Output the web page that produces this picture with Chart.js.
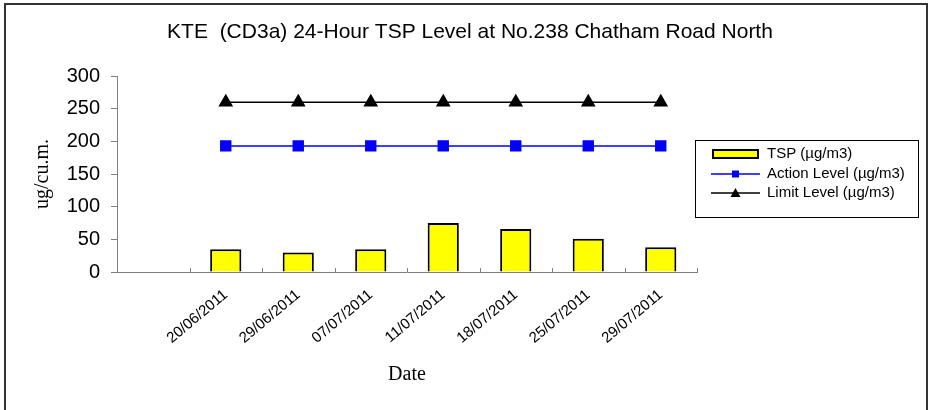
<!DOCTYPE html>
<html>
<head>
<meta charset="utf-8">
<script src="https://cdn.jsdelivr.net/npm/chart.js@4.4.0/dist/chart.umd.min.js"></script>
<style>
  html, body { margin: 0; padding: 0; background: #fff; }
  #wrap { width: 930px; height: 410px; position: relative; }
</style>
</head>
<body>
<div id="wrap"><canvas id="tspChart"></canvas></div>
<script>
// datos del grafico
const dates = ['', '20/06/2011', '29/06/2011', '07/07/2011', '11/07/2011', '18/07/2011', '25/07/2011', '29/07/2011'];
const tspValues = [null, 35, 30, 35, 75, 66, 51, 38];
const actionLevel = [null, 193, 193, 193, 193, 193, 193, 193];
const limitLevel = [null, 260, 260, 260, 260, 260, 260, 260];
const seriesNames = ['TSP (µg/m3)', 'Action Level (µg/m3)', 'Limit Level (µg/m3)'];
const chartTitle = 'KTE  (CD3a) 24-Hour TSP Level at No.238 Chatham Road North';

const sans = '"Liberation Sans", Arial, sans-serif';
const serif = '"Liberation Serif", "Times New Roman", serif';

// marco exterior y titulo
const framePlugin = {
  id: 'frame',
  beforeDraw(chart) {
    const c = chart.ctx;
    c.save();
    c.fillStyle = '#fff';
    c.fillRect(0, 0, chart.width, chart.height);
    c.strokeStyle = '#333';
    c.lineWidth = 2;
    c.beginPath();
    c.moveTo(5, 410);
    c.lineTo(5, 4);
    c.lineTo(927, 4);
    c.lineTo(927, 410);
    c.stroke();
    c.fillStyle = '#000';
    c.font = '21px ' + sans;
    c.textAlign = 'center';
    c.textBaseline = 'middle';
    c.fillText(chartTitle, 470, 32);
    c.restore();
  }
};

// marcas del eje x hacia dentro
const xTickPlugin = {
  id: 'xTicks',
  afterDraw(chart) {
    const xs = chart.scales.x;
    const c = chart.ctx;
    const half = (xs.getPixelForValue(1) - xs.getPixelForValue(0)) / 2;
    c.save();
    c.strokeStyle = '#808080';
    c.lineWidth = 1;
    for (let i = 0; i <= dates.length; i++) {
      const px = Math.round(xs.getPixelForValue(i) - half) + 0.5;
      c.beginPath();
      c.moveTo(px, xs.top);
      c.lineTo(px, xs.top - 4);
      c.stroke();
    }
    c.restore();
  }
};

// leyenda a la derecha
const legendPlugin = {
  id: 'boxLegend',
  afterDraw(chart) {
    const c = chart.ctx;
    const x = 695, y = 140, w = 223, h = 77;
    c.save();
    c.strokeStyle = '#000';
    c.lineWidth = 1;
    c.strokeRect(x + 0.5, y + 0.5, w, h);
    c.font = '15px ' + sans;
    c.textBaseline = 'middle';
    const rows = [154, 174, 193];
    const sx = 711, ex = 760, mx = (sx + ex) / 2;
    // TSP
    c.fillStyle = '#ffff00';
    c.strokeStyle = '#000';
    c.lineWidth = 2;
    c.fillRect(sx + 2, rows[0] - 4, ex - sx - 4, 8);
    c.strokeRect(sx + 2, rows[0] - 4, ex - sx - 4, 8);
    // Action
    c.strokeStyle = '#0000ff';
    c.lineWidth = 1.5;
    c.beginPath(); c.moveTo(sx, rows[1]); c.lineTo(ex, rows[1]); c.stroke();
    c.fillStyle = '#0000ff';
    c.fillRect(mx - 3.5, rows[1] - 3.5, 7, 7);
    // Limit
    c.strokeStyle = '#000';
    c.beginPath(); c.moveTo(sx, rows[2]); c.lineTo(ex, rows[2]); c.stroke();
    c.fillStyle = '#000';
    c.beginPath(); c.moveTo(mx, rows[2] - 5); c.lineTo(mx + 5, rows[2] + 4); c.lineTo(mx - 5, rows[2] + 4); c.closePath(); c.fill();
    seriesNames.forEach((s, i) => c.fillText(s, 767, rows[i]));
    c.restore();
  }
};

const ctx = document.getElementById('tspChart').getContext('2d');

new Chart(ctx, {
  data: {
    labels: dates,
    datasets: [
      {
        type: 'line',
        label: seriesNames[2],
        data: limitLevel,
        borderColor: '#000',
        backgroundColor: '#000',
        borderWidth: 1.5,
        pointStyle: 'triangle',
        pointRadius: 7,
        pointHoverRadius: 7,
        order: 1
      },
      {
        type: 'line',
        label: seriesNames[1],
        data: actionLevel,
        borderColor: '#0000ff',
        backgroundColor: '#0000ff',
        borderWidth: 1.5,
        pointStyle: 'rect',
        pointRadius: 7,
        pointHoverRadius: 7,
        order: 2
      },
      {
        type: 'bar',
        label: seriesNames[0],
        data: tspValues,
        backgroundColor: '#ffff00',
        borderColor: '#000',
        borderWidth: 2,
        barPercentage: 0.43,
        categoryPercentage: 1,
        order: 3
      }
    ]
  },
  options: {
    responsive: true,
    maintainAspectRatio: false,
    animation: false,
    layout: { padding: { left: 0, right: 233, top: 76, bottom: 0 } },
    plugins: {
      legend: { display: false },
      tooltip: { enabled: false },
      title: { display: false }
    },
    scales: {
      x: {
        offset: true,
        grid: { display: false },
        border: { color: '#808080', width: 1 },
        ticks: { color: '#000', font: { family: sans, size: 15 }, minRotation: 40, maxRotation: 40, padding: 6, autoSkip: false },
        title: { display: true, text: 'Date', color: '#000', font: { family: serif, size: 20 }, padding: { top: 0, bottom: 23 } },
        afterFit(scale) { scale.height = 138; }
      },
      y: {
        min: 0,
        max: 300,
        grid: { display: true, drawOnChartArea: false, drawTicks: true, tickLength: 6, color: '#808080' },
        border: { color: '#808080', width: 1 },
        ticks: { stepSize: 50, color: '#000', font: { family: sans, size: 20 }, padding: 11 },
        title: { display: true, text: 'ug/cu.m.', color: '#000', font: { family: serif, size: 20 }, padding: { top: 31, bottom: 0 } },
        afterFit(scale) { scale.width = 117; }
      }
    }
  },
  plugins: [framePlugin, xTickPlugin, legendPlugin]
});
</script>
</body>
</html>
